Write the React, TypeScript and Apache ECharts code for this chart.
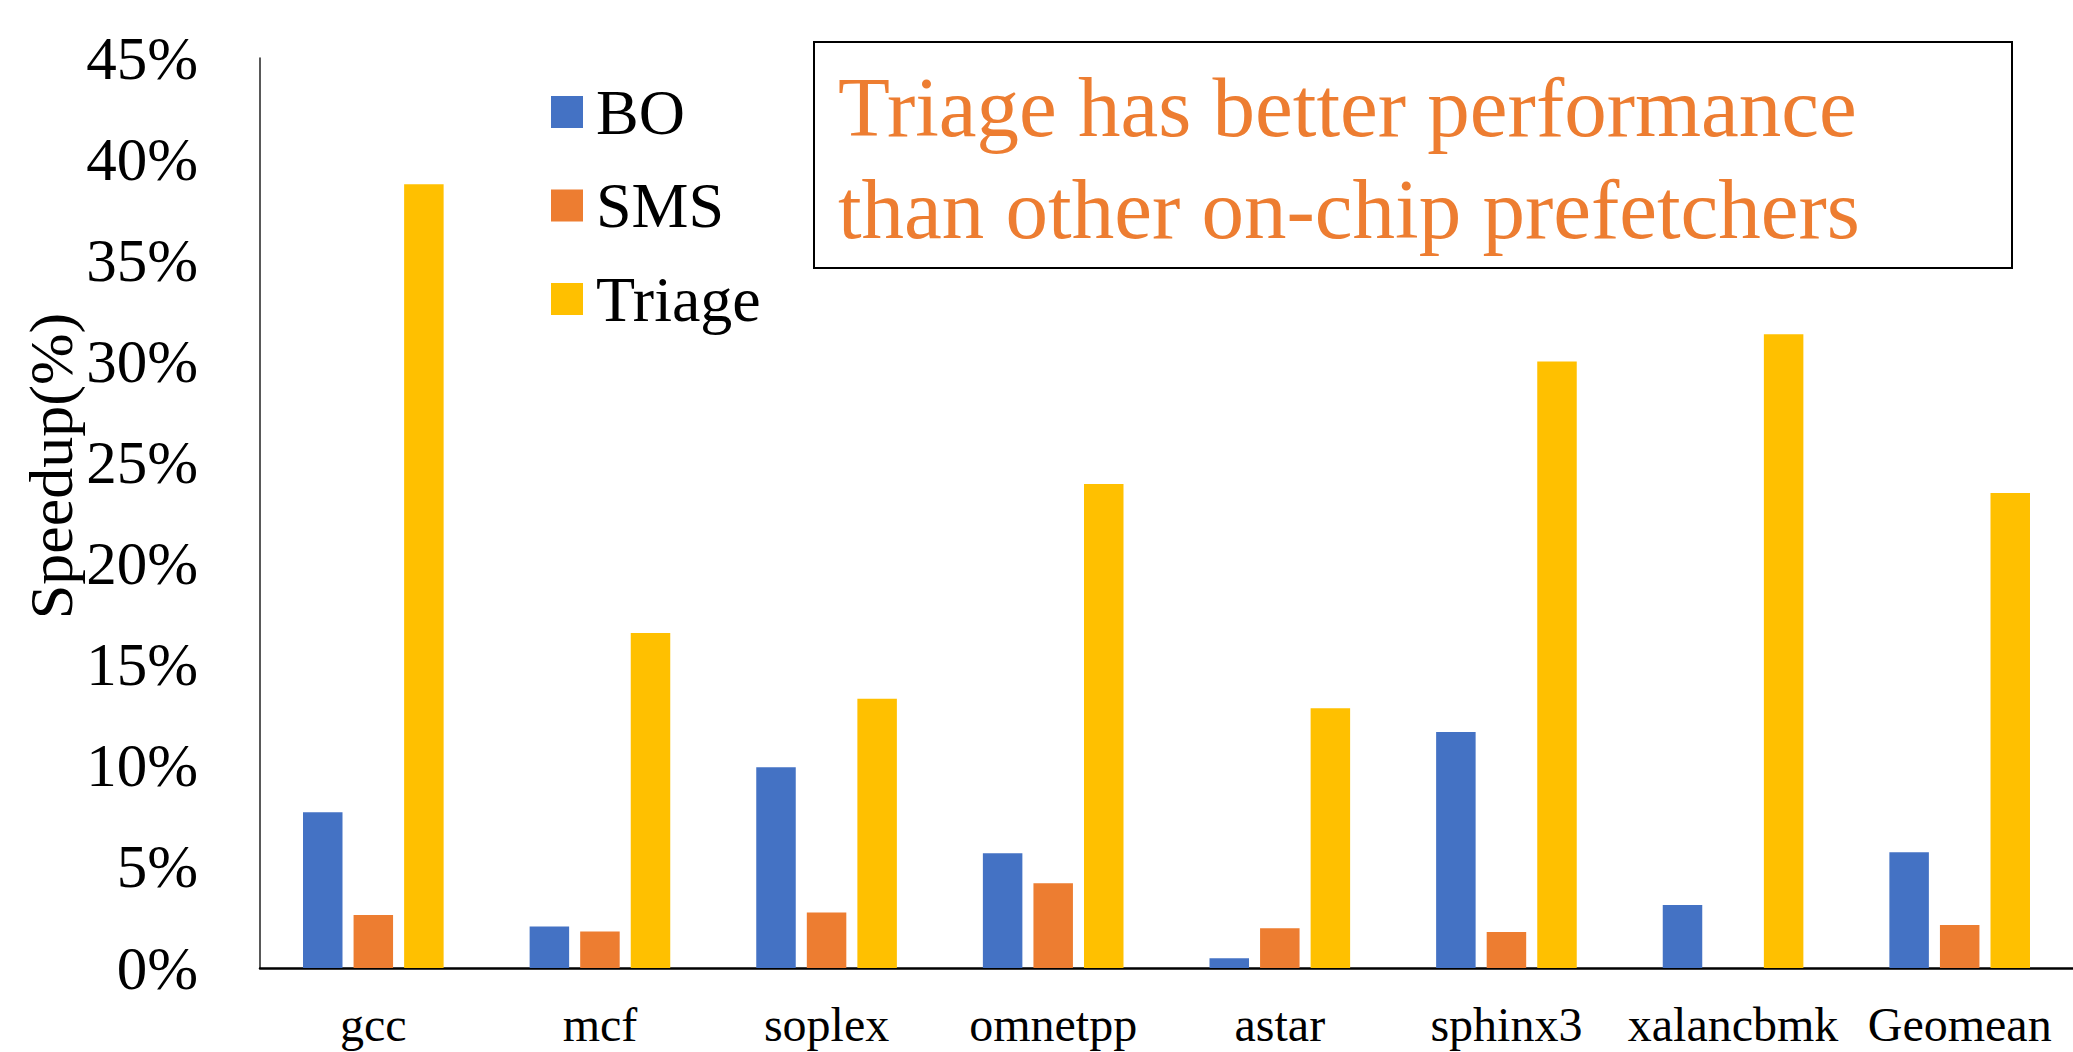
import React, { useEffect, useRef } from "react";
import * as echarts from "echarts";

const categories = ["gcc", "mcf", "soplex", "omnetpp", "astar", "sphinx3", "xalancbmk", "Geomean"];
const seriesNames = ["BO", "SMS", "Triage"];
const boValues = [7.7, 2.05, 9.93, 5.68, 0.48, 11.67, 3.12, 5.73];
const smsValues = [2.62, 1.8, 2.75, 4.19, 1.96, 1.78, -0.13, 2.13];
const triageValues = [38.76, 16.57, 13.32, 23.94, 12.85, 29.99, 31.34, 23.49];
const seriesColors = ["#4472C4", "#ED7D31", "#FFC000"];
const yTicks = { min: 0, max: 45, interval: 5 };
const yAxisTitle = "Speedup(%)";
const noteLines = ["Triage has better performance", "than other on-chip prefetchers"];

const FONT = '"Liberation Serif", "Times New Roman", serif';

export default function App() {
  const ref = useRef<HTMLDivElement>(null);
  useEffect(() => {
    if (!ref.current) return;
    const chart = echarts.init(ref.current, undefined, { renderer: "svg" });
    const values = [boValues, smsValues, triageValues];
    chart.setOption({
      animation: false,
      backgroundColor: "#ffffff",
      textStyle: { fontFamily: FONT },
      grid: { left: 260, right: 0, top: 58, bottom: 84, containLabel: false },
      legend: {
        orient: "vertical",
        left: 546,
        top: 75,
        itemWidth: 32,
        itemHeight: 32,
        itemGap: 29.5,
        icon: "rect",
        data: seriesNames,
        textStyle: {
          fontFamily: FONT,
          fontSize: 64,
          color: "#000",
          lineHeight: 62,
          padding: [0, 0, 0, 8],
        },
      },
      xAxis: {
        type: "category",
        data: categories,
        axisLine: { show: true, lineStyle: { color: "#000", width: 2.5 } },
        axisTick: { show: false },
        axisLabel: { fontFamily: FONT, fontSize: 48, color: "#000", margin: 32, interval: 0 },
        splitLine: { show: false },
      },
      yAxis: {
        type: "value",
        min: yTicks.min,
        max: yTicks.max,
        interval: yTicks.interval,
        axisLine: { show: true, lineStyle: { color: "#222", width: 1.5 } },
        axisTick: { show: false },
        splitLine: { show: false },
        axisLabel: {
          fontFamily: FONT,
          fontSize: 61,
          color: "#000",
          margin: 62,
          formatter: "{value}%",
        },
      },
      series: seriesNames.map((name, i) => ({
        name,
        type: "bar",
        data: values[i],
        barWidth: 39.5,
        barGap: "28%",
        itemStyle: { color: seriesColors[i] },
      })),
      graphic: [
        {
          type: "text",
          x: 51,
          y: 466,
          rotation: Math.PI / 2,
          style: {
            text: yAxisTitle,
            fontFamily: FONT,
            fontSize: 62,
            fill: "#000",
            align: "center",
            verticalAlign: "middle",
          },
        },
        {
          type: "rect",
          shape: { x: 814, y: 42, width: 1198, height: 226 },
          style: { fill: "#fff", stroke: "#000", lineWidth: 2 },
          z: 10,
        },
        {
          type: "text",
          x: 838,
          y: 157.6,
          z: 11,
          style: {
            text: noteLines.join("\n"),
            fontFamily: FONT,
            fontSize: 85,
            lineHeight: 102,
            fill: "#ED7D31",
            align: "left",
            verticalAlign: "middle",
          },
        },
      ],
    });
    return () => chart.dispose();
  }, []);
  return (
    <div
      ref={ref}
      style={{ position: "fixed", left: 0, top: 0, width: 2073, height: 1052, background: "#fff" }}
    />
  );
}
